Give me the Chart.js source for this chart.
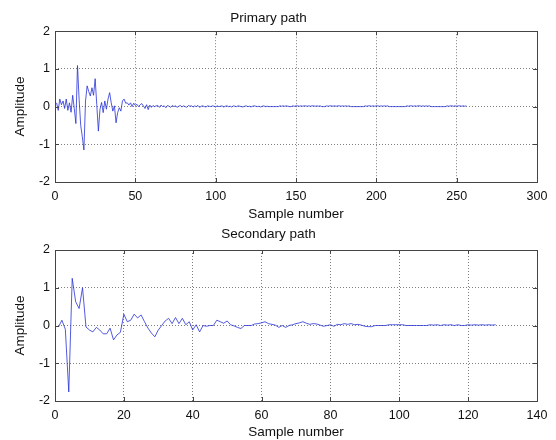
<!DOCTYPE html>
<html lang="en">
<head>
  <meta charset="UTF-8" />
  <title>Primary and secondary path</title>
  <script src="https://cdn.jsdelivr.net/npm/chart.js"></script>
  <style>
    body {
      margin: 0;
      background: #fff;
      font-family: 'Liberation Sans', Arial, sans-serif;
    }
    .panel {
      position: absolute;
      left: 0;
      width: 556px;
    }
    #top { top: 0; height: 222px; }
    #bottom { top: 222px; height: 218px; }
  </style>
</head>
<body>

  <div id="top" class="panel"><canvas id="primaryChart"></canvas></div>
  <div id="bottom" class="panel"><canvas id="secondaryChart"></canvas></div>

  <script>
    // impulse responses, sample index starts at 1
    const primaryPath = [
      0.10, -0.10, 0.20, 0.05, 0.15, -0.05, 0.20, -0.10, 0.10, -0.15, 0.30, -0.05, -0.45, 1.09, 0.20, -0.50,
      -0.80, -1.15, 0.15, 0.55, 0.40, 0.28, 0.50, 0.30, 0.74, 0.05, -0.65, -0.07, 0.11, -0.16, 0.15, -0.07,
      0.20, 0.37, 0.10, -0.12, 0.02, -0.43, -0.16, -0.03, -0.12, 0.15, 0.20, 0.09, 0.10, 0.04, 0.10, 0.00,
      0.09, 0.03, 0.06, 0.00, 0.05, 0.08, 0.02, -0.05, 0.05, -0.08, 0.04, -0.02, 0.03, 0.00, 0.02, 0.03,
      -0.02, 0.04, 0.00, 0.02, -0.03, 0.03, 0.01, -0.02, 0.03, 0.00, 0.02, -0.02, 0.01, 0.03, -0.01, 0.02,
      0.00, -0.02, 0.03, 0.01, 0.02, -0.01, 0.02, 0.00, 0.03, -0.02, 0.01, 0.02, 0.00, -0.01, 0.02, 0.01,
      0.00, 0.02, 0.01, -0.01, 0.02, 0.00, 0.01, 0.02, -0.01, 0.01, 0.02, 0.00, 0.01, -0.01, 0.02, 0.01,
      0.00, 0.02, 0.01, 0.00, -0.01, 0.01, 0.02, 0.00, 0.01, -0.01, 0.01, 0.02, 0.01, 0.00, 0.01, -0.01,
      0.01, 0.02, 0.00, 0.01, 0.00, 0.00, 0.00, 0.00, 0.00, 0.00, 0.00, 0.02, 0.01, 0.02, 0.01, 0.02,
      0.01, 0.00, 0.00, 0.02, 0.01, 0.02, 0.02, 0.01, 0.02, 0.01, 0.02, 0.02, 0.01, 0.02, 0.01, 0.02,
      0.02, 0.01, 0.02, 0.01, 0.02, 0.00, 0.00, 0.00, 0.02, 0.01, 0.02, 0.02, 0.01, 0.02, 0.01, 0.02,
      0.02, 0.01, 0.02, 0.01, 0.02, 0.01, 0.02, 0.00, 0.00, 0.00, 0.00, 0.00, 0.00, 0.00, 0.00, 0.00,
      0.02, 0.01, 0.02, 0.02, 0.01, 0.02, 0.01, 0.02, 0.02, 0.01, 0.02, 0.01, 0.02, 0.01, 0.02, 0.00,
      0.00, 0.00, 0.00, 0.00, 0.00, 0.00, 0.00, 0.00, 0.00, 0.00, 0.02, 0.01, 0.02, 0.02, 0.01, 0.02,
      0.01, 0.02, 0.02, 0.01, 0.02, 0.01, 0.02, 0.01, 0.02, 0.00, 0.00, 0.00, 0.00, 0.00, 0.00, 0.00,
      0.00, 0.00, 0.00, 0.02, 0.01, 0.02, 0.02, 0.01, 0.02, 0.01, 0.02, 0.02, 0.01, 0.02, 0.01, 0.02
    ];

    const secondaryPath = [
      -0.04, 0.14, -0.10, -1.76, 1.25, 0.63, 0.45, 1.00, -0.04, -0.12, -0.17, -0.05, -0.12, -0.22, -0.22, -0.07,
      -0.38, -0.25, -0.18, 0.30, 0.10, 0.14, 0.30, 0.20, 0.28, 0.10, -0.07, -0.20, -0.30, -0.12, 0.00, 0.12,
      0.19, 0.05, 0.21, 0.05, 0.19, 0.02, 0.10, -0.12, 0.02, -0.17, 0.00, -0.02, 0.00, 0.00, 0.14, 0.10,
      0.06, 0.12, 0.02, -0.01, -0.05, -0.08, 0.00, 0.00, 0.00, 0.04, 0.05, 0.07, 0.10, 0.05, 0.03, 0.01,
      -0.05, 0.00, -0.05, 0.00, 0.02, 0.05, 0.07, 0.10, 0.06, 0.03, 0.05, 0.04, 0.01, -0.02, 0.00, 0.02,
      -0.02, 0.03, 0.02, 0.05, 0.03, 0.05, 0.02, 0.03, 0.01, -0.02, -0.03, -0.03, 0.00, 0.00, 0.00, 0.00,
      0.02, 0.02, 0.02, 0.02, 0.02, 0.00, 0.00, 0.00, 0.00, 0.00, 0.00, 0.00, 0.02, 0.01, 0.02, 0.00,
      0.02, 0.01, 0.02, 0.00, 0.02, 0.00, 0.00, 0.02, 0.01, 0.02, 0.01, 0.02, 0.01, 0.02, 0.01, 0.02
    ];

    const primaryXTicks = { min: 0, max: 300, step: 50 };
    const secondaryXTicks = { min: 0, max: 140, step: 20 };
    const yTicks = { min: -2, max: 2, step: 1 };

    const FONT = "'Liberation Sans', Arial, sans-serif";
    const LINE_COLOR = 'rgba(40, 50, 215, 0.8)';
    const GRID_COLOR = 'rgba(0, 0, 0, 0.5)';
    const BOX_COLOR = '#444';

    // box on all four sides with inward tick marks
    const boxPlugin = {
      id: 'boxPlugin',
      afterDraw(chart) {
        const { ctx, chartArea: a, scales } = chart;
        const len = 4;
        ctx.save();
        ctx.strokeStyle = BOX_COLOR;
        ctx.lineWidth = 1;
        ctx.beginPath();
        scales.x.ticks.forEach(t => {
          const px = Math.round(scales.x.getPixelForValue(t.value)) + 0.5;
          ctx.moveTo(px, a.bottom); ctx.lineTo(px, a.bottom - len);
          ctx.moveTo(px, a.top); ctx.lineTo(px, a.top + len);
        });
        scales.y.ticks.forEach(t => {
          const py = Math.round(scales.y.getPixelForValue(t.value)) + 0.5;
          ctx.moveTo(a.left, py); ctx.lineTo(a.left + len, py);
          ctx.moveTo(a.right, py); ctx.lineTo(a.right - len, py);
        });
        ctx.stroke();
        ctx.strokeRect(Math.round(a.left) + 0.5, Math.round(a.top) + 0.5,
          Math.round(a.right - a.left), Math.round(a.bottom - a.top));
        ctx.restore();
      }
    };

    function makeChart(canvasId, values, xt, opts) {
      const points = values.map((v, i) => ({ x: i + 1, y: v }));
      return new Chart(document.getElementById(canvasId), {
        type: 'line',
        data: {
          datasets: [{
            data: points,
            borderColor: LINE_COLOR,
            borderWidth: 1,
            pointRadius: 0,
            tension: 0,
            fill: false
          }]
        },
        options: {
          responsive: true,
          maintainAspectRatio: false,
          animation: false,
          layout: { padding: { left: 0, right: 19, top: 0, bottom: 0 } },
          plugins: {
            legend: { display: false },
            tooltip: { enabled: false },
            title: {
              display: true,
              text: opts.title,
              color: '#111',
              font: { family: FONT, size: 13.5, weight: 'normal' },
              padding: opts.titlePad
            }
          },
          scales: {
            x: {
              type: 'linear',
              min: xt.min,
              max: xt.max,
              afterFit: s => { s.height = opts.xHeight; },
              ticks: {
                stepSize: xt.step,
                padding: 7,
                maxRotation: 0,
                color: '#111',
                font: { family: FONT, size: 12.5 }
              },
              grid: { color: GRID_COLOR, drawTicks: false, lineWidth: 1 },
              border: { display: false, dash: [1, 2] },
              title: {
                display: true,
                text: 'Sample number',
                color: '#111',
                font: { family: FONT, size: 13.5 },
                padding: { top: 0, bottom: opts.xTitleBottom }
              }
            },
            y: {
              min: yTicks.min,
              max: yTicks.max,
              afterFit: s => { s.width = 55; },
              ticks: {
                stepSize: yTicks.step,
                padding: 5,
                color: '#111',
                font: { family: FONT, size: 12.5 }
              },
              grid: { color: GRID_COLOR, drawTicks: false, lineWidth: 1 },
              border: { display: false, dash: [1, 2] },
              title: {
                display: true,
                text: 'Amplitude',
                color: '#111',
                font: { family: FONT, size: 13.5 },
                padding: { top: 12, bottom: 0 }
              }
            }
          }
        },
        plugins: [boxPlugin]
      });
    }

    makeChart('primaryChart', primaryPath, primaryXTicks, {
      title: 'Primary path',
      titlePad: { top: 10.5, bottom: 4.5 },
      xHeight: 40,
      xTitleBottom: 0
    });

    makeChart('secondaryChart', secondaryPath, secondaryXTicks, {
      title: 'Secondary path',
      titlePad: { top: 4, bottom: 7.8 },
      xHeight: 39,
      xTitleBottom: 0
    });
  </script>
</body>
</html>
